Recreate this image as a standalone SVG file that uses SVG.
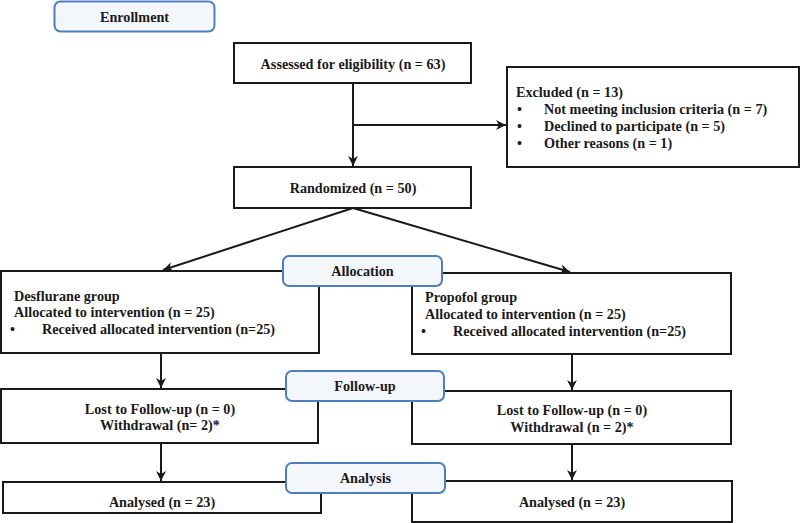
<svg xmlns="http://www.w3.org/2000/svg" width="800" height="523" viewBox="0 0 800 523">
<defs>
<style>
text{font-family:"Liberation Serif","Times New Roman",serif;font-weight:bold;font-size:14.2px;fill:#1a1a1a}
.box{fill:#fff;stroke:#1a1a1a;stroke-width:2}
.lbl{fill:#f3f6fa;stroke:#4f7ec0;stroke-width:2}
.c{text-anchor:middle}
.ln{fill:none;stroke:#1a1a1a;stroke-width:2}
</style>
<marker id="ah" markerWidth="12" markerHeight="12" refX="10" refY="6" orient="auto" markerUnits="userSpaceOnUse">
<path d="M0,1 L10,6 L0,11 L3,6 Z" fill="#1a1a1a"/>
</marker>
</defs>
<rect width="800" height="523" fill="#fff"/>
<g id="connectors">
<line class="ln" x1="353" y1="83" x2="353" y2="166" marker-end="url(#ah)"/>
<line class="ln" x1="353" y1="125" x2="506" y2="125" marker-end="url(#ah)"/>
<line class="ln" x1="353" y1="208" x2="163" y2="270" marker-end="url(#ah)"/>
<line class="ln" x1="353" y1="208" x2="570" y2="272" marker-end="url(#ah)"/>
<line class="ln" x1="161" y1="353" x2="161" y2="388" marker-end="url(#ah)"/>
<line class="ln" x1="572" y1="354" x2="572" y2="390" marker-end="url(#ah)"/>
<line class="ln" x1="161" y1="443" x2="161" y2="481" marker-end="url(#ah)"/>
<line class="ln" x1="572" y1="444" x2="572" y2="480" marker-end="url(#ah)"/>
</g>
<g id="enrollment">
<rect class="lbl" x="54.5" y="1.5" width="160" height="30" rx="6"/>
<text class="c" x="134.5" y="21.5">Enrollment</text>
</g>
<g id="assessed">
<rect class="box" x="234" y="43" width="237" height="40"/>
<text class="c" x="353" y="68.5">Assessed for eligibility (n = 63)</text>
</g>
<g id="excluded">
<rect class="box" x="507" y="67" width="292" height="100"/>
<text x="516" y="97">Excluded (n = 13)</text>
<text x="517" y="114">•</text><text x="544" y="114">Not meeting inclusion criteria (n = 7)</text>
<text x="517" y="131">•</text><text x="544" y="131">Declined to participate (n = 5)</text>
<text x="517" y="148">•</text><text x="544" y="148">Other reasons (n = 1)</text>
</g>
<g id="randomized">
<rect class="box" x="234" y="167" width="237" height="41"/>
<text class="c" x="353" y="193">Randomized (n = 50)</text>
</g>
<g id="desflurane">
<rect class="box" x="1" y="271" width="318" height="82"/>
<text x="14" y="300.5">Desflurane group</text>
<text x="14" y="317">Allocated to intervention (n = 25)</text>
<text x="10" y="334">•</text><text x="42" y="334">Received allocated intervention (n=25)</text>
</g>
<g id="propofol">
<rect class="box" x="412" y="273" width="319" height="81"/>
<text x="425" y="302">Propofol group</text>
<text x="425" y="319">Allocated to intervention (n = 25)</text>
<text x="421" y="336">•</text><text x="453" y="336">Received allocated intervention (n=25)</text>
</g>
<g id="followup-left">
<rect class="box" x="1" y="389" width="317" height="54"/>
<text class="c" x="160" y="413.5">Lost to Follow-up (n = 0)</text>
<text class="c" x="160" y="430">Withdrawal (n= 2)*</text>
</g>
<g id="followup-right">
<rect class="box" x="412" y="391" width="319" height="53"/>
<text class="c" x="572" y="415">Lost to Follow-up (n = 0)</text>
<text class="c" x="572" y="431.5">Withdrawal (n = 2)*</text>
</g>
<g id="analysed-left">
<rect class="box" x="3" y="482" width="318" height="31"/>
<text class="c" x="162" y="507">Analysed (n = 23)</text>
</g>
<g id="analysed-right">
<rect class="box" x="412" y="481" width="320" height="41"/>
<text class="c" x="572" y="507">Analysed (n = 23)</text>
</g>
<g id="allocation">
<rect class="lbl" x="283" y="256" width="159" height="30" rx="6"/>
<text class="c" x="362.5" y="276">Allocation</text>
</g>
<g id="followup">
<rect class="lbl" x="286" y="371" width="158" height="30" rx="6"/>
<text class="c" x="365" y="391">Follow-up</text>
</g>
<g id="analysis">
<rect class="lbl" x="286" y="463" width="159" height="30" rx="6"/>
<text class="c" x="365.5" y="483">Analysis</text>
</g>
</svg>
